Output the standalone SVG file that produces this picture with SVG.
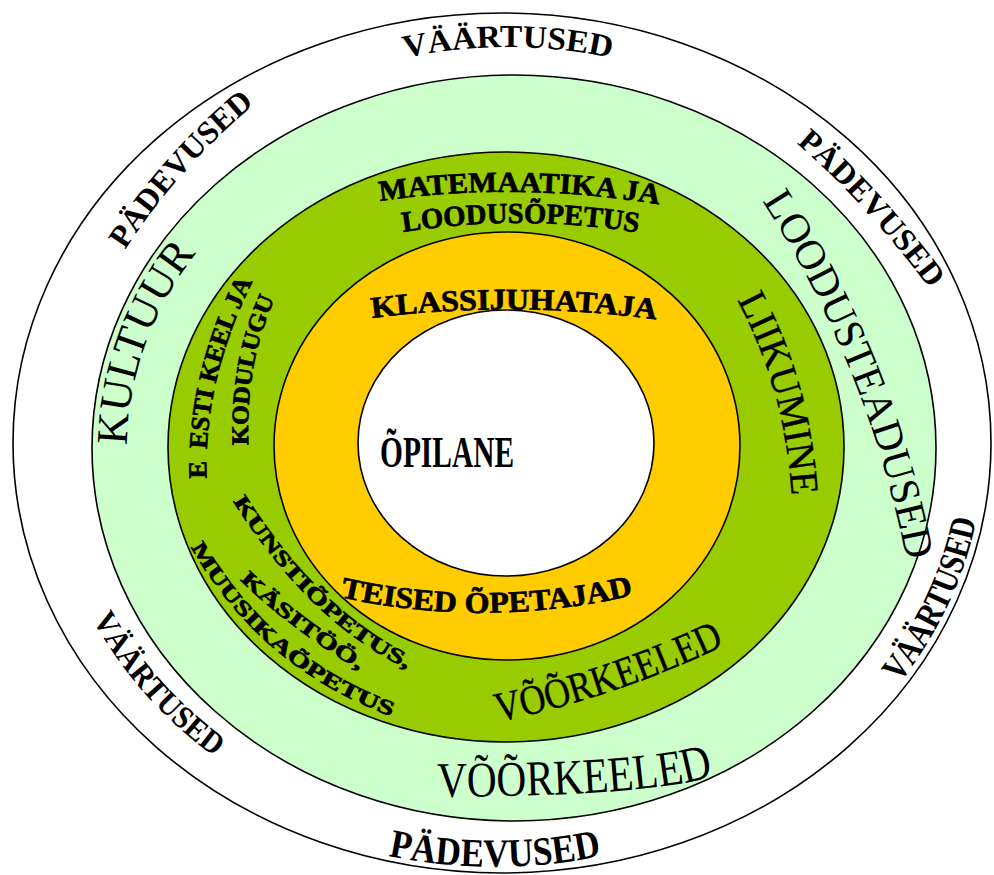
<svg xmlns="http://www.w3.org/2000/svg" width="994" height="875" viewBox="0 0 994 875">
<style>
  .ring { stroke: #000; stroke-width: 1.6; }
  text { font-family: "Liberation Serif", "Times New Roman", serif; fill: #000; }
  .b { font-weight: bold; }
  .h { font-weight: bold; stroke: #000; stroke-width: 0.7; }
  .r { stroke: #000; stroke-width: 0.4; }
</style>
<defs>
  <!-- outer band -->
  <path id="p-top-vaar" d="M 63 445 A 445 398 0 0 1 953 445"/>
  <path id="p-ul-pad" d="M 120 258 Q 176 168 262 98"/>
  <path id="p-ur-pad" d="M 790 138 Q 861.5 197 935 296"/>
  <path id="p-r-vaar" d="M 735.1 813.2 A 476 419 0 0 0 959.4 312.1"/>
  <path id="p-ll-vaar" d="M 48.8 421 A 460 405 0 0 0 401.4 839"/>
  <path id="p-b-pad" d="M 25 445 A 470 422 0 0 0 965 445"/>
  <!-- light green band -->
  <path id="p-kultuur" d="M 157.6 580.8 A 385 340 0 0 1 302.3 162.8"/>
  <path id="p-loodust" d="M 735 160 Q 879 365 915 610"/>
  <path id="p-voor1" d="M 437 797 Q 657 796 717 775 L 740 767"/>
  <!-- green band -->
  <path id="p-mat1" d="M 380 201 Q 519 181 662 205 L 680 208"/>
  <path id="p-mat2" d="M 403 232 Q 522.5 213.5 640 233 L 660 236"/>
  <path id="p-eesti" d="M 211 520 Q 188 381 281 230 L 295 208"/>
  <path id="p-kodu" d="M 250 470 Q 238.5 345 297 260 L 309 243"/>
  <path id="p-kun1" d="M 233 501 Q 308 621 407 669 L 435 679"/>
  <path id="p-kun2" d="M 240 580 Q 289 628 362 672 L 386 686"/>
  <path id="p-kun3" d="M 191 547 Q 260 668 393 717 L 421 727"/>
  <path id="p-liik" d="M 737 300 Q 785.5 390 792 500 L 793 530"/>
  <path id="p-voor2" d="M 498 722 Q 616 697.5 730 643 L 755 630"/>
  <!-- orange band -->
  <path id="p-klass" d="M 372 318 Q 515 300 660 320 L 680 323"/>
  <path id="p-teised" d="M 340 597 Q 488 630 638 594 L 660 588"/>
</defs>
<rect x="0" y="0" width="994" height="875" fill="#fff"/>

<g id="ring-outer">
  <ellipse class="ring" cx="502" cy="443" rx="489" ry="430" fill="#fff"/>
  <text class="b" font-size="32"><textPath href="#p-top-vaar" startOffset="50%" text-anchor="middle" textLength="208" lengthAdjust="spacingAndGlyphs">VÄÄRTUSED</textPath></text>
  <text class="b" font-size="32"><textPath href="#p-ul-pad" startOffset="50%" text-anchor="middle" textLength="196" lengthAdjust="spacingAndGlyphs">PÄDEVUSED</textPath></text>
  <text class="b" font-size="32"><textPath href="#p-ur-pad" startOffset="50%" text-anchor="middle" textLength="198" lengthAdjust="spacingAndGlyphs">PÄDEVUSED</textPath></text>
  <text class="b" font-size="36"><textPath href="#p-r-vaar" startOffset="50%" text-anchor="middle" textLength="182" lengthAdjust="spacingAndGlyphs">VÄÄRTUSED</textPath></text>
  <text class="b" font-size="32"><textPath href="#p-ll-vaar" startOffset="50%" text-anchor="middle" textLength="185" lengthAdjust="spacingAndGlyphs">VÄÄRTUSED</textPath></text>
  <text class="b" font-size="40"><textPath href="#p-b-pad" startOffset="50%" text-anchor="middle" textLength="215" lengthAdjust="spacingAndGlyphs">PÄDEVUSED</textPath></text>
</g>

<g id="ring-lightgreen">
  <ellipse class="ring" cx="514" cy="448" rx="422" ry="373" fill="#CCFFCC"/>
  <text font-size="44"><textPath href="#p-kultuur" startOffset="50%" text-anchor="middle" textLength="208" lengthAdjust="spacingAndGlyphs">KULTUUR</textPath></text>
  <text font-size="42"><textPath href="#p-loodust" startOffset="49" textLength="390" lengthAdjust="spacingAndGlyphs">LOODUSTEADUSED</textPath></text>
  <text font-size="50"><textPath href="#p-voor1" startOffset="0" textLength="278" lengthAdjust="spacingAndGlyphs">VÕÕRKEELED</textPath></text>
</g>

<g id="ring-green">
  <ellipse class="ring" cx="506" cy="447" rx="338" ry="295" fill="#99CC00"/>
  <text class="h" font-size="29"><textPath href="#p-mat1" startOffset="0" textLength="280" lengthAdjust="spacingAndGlyphs">MATEMAATIKA JA</textPath></text>
  <text class="h" font-size="29"><textPath href="#p-mat2" startOffset="0" textLength="236" lengthAdjust="spacingAndGlyphs">LOODUSÕPETUS</textPath></text>
  <text class="h" font-size="26"><textPath href="#p-eesti" startOffset="42">E<tspan dx="12">ESTI KEEL JA</tspan></textPath></text>
  <text class="h" font-size="24"><textPath href="#p-kodu" startOffset="25" textLength="150" lengthAdjust="spacingAndGlyphs">KODULUGU</textPath></text>
  <text class="h" font-size="21"><textPath href="#p-kun1" startOffset="0" textLength="245" lengthAdjust="spacingAndGlyphs">KUNSTIÕPETUS,</textPath></text>
  <text class="h" font-size="21"><textPath href="#p-kun2" startOffset="0" textLength="150" lengthAdjust="spacingAndGlyphs">KÄSITÖÖ,</textPath></text>
  <text class="h" font-size="21"><textPath href="#p-kun3" startOffset="0" textLength="268" lengthAdjust="spacingAndGlyphs">MUUSIKAÕPETUS</textPath></text>
  <text class="r" font-size="40"><textPath href="#p-liik" startOffset="0" textLength="205" lengthAdjust="spacingAndGlyphs">LIIKUMINE</textPath></text>
  <text class="r" font-size="42"><textPath href="#p-voor2" startOffset="0" textLength="240" lengthAdjust="spacingAndGlyphs">VÕÕRKEELED</textPath></text>
</g>

<g id="ring-orange">
  <ellipse class="ring" cx="507" cy="446" rx="233" ry="214" fill="#FFCC00"/>
  <text class="h" font-size="30"><textPath href="#p-klass" startOffset="0" textLength="285" lengthAdjust="spacingAndGlyphs">KLASSIJUHATAJA</textPath></text>
  <text class="h" font-size="30"><textPath href="#p-teised" startOffset="0" textLength="296" lengthAdjust="spacingAndGlyphs">TEISED ÕPETAJAD</textPath></text>
</g>

<g id="center">
  <ellipse class="ring" cx="506" cy="443" rx="148" ry="133" fill="#fff"/>
  <text class="b" x="380" y="467" font-size="45" textLength="134" lengthAdjust="spacingAndGlyphs">ÕPILANE</text>
</g>

<g id="connectors"/>
</svg>
